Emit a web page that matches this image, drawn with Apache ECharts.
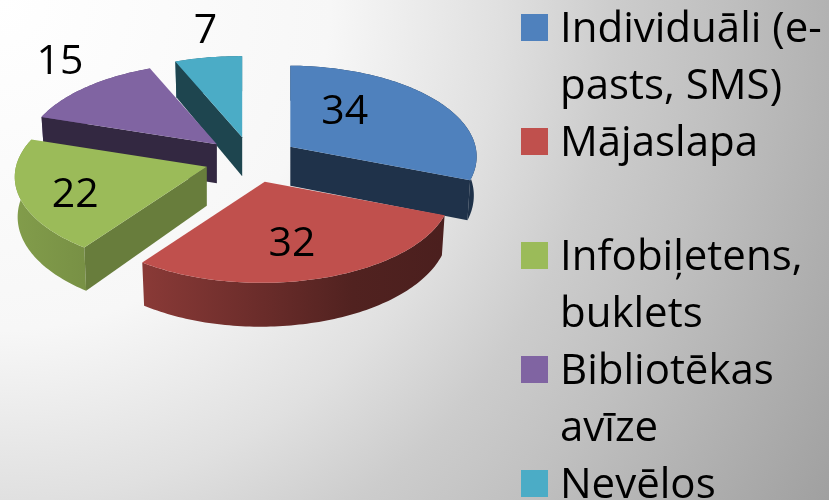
<!DOCTYPE html>
<html>
<head>
<meta charset="utf-8">
<style>
  html, body { margin: 0; padding: 0; }
  #main { width: 829px; height: 500px; }
</style>
<script src="https://cdn.jsdelivr.net/npm/echarts@6/dist/echarts.min.js"></script>
</head>
<body>
<div id="main"></div>
<script>
const categories = ['Individuāli (e-\npasts, SMS)', 'Mājaslapa', 'Infobiļetens,\nbuklets', 'Bibliotēkas\navīze', 'Nevēlos']
const values = [34, 32, 22, 15, 7]
const colors = ['#4F81BD', '#C0504D', '#9BBB59', '#8064A2', '#4BACC6']
// how dark the flat cut face of each slice is
const wallShade = [0.39, 0.4, 0.67, 0.4, 0.4]
// label place relative to the slice tip, in units of the radii
const labelPlace = [[0.29, -0.38], [0.145, 0.7], [-0.70, 0.313], [-0.835, -0.91], [-0.195, -1.18]]

const FONT = '"Open Sans"'
const CX = 251.5
const CY = 159.7
const RX = 188
const RY = 90
const PERSP_Y = 0.11
const PERSP_X = 0.015
const EXPLODE_X = 0.25
const EXPLODE_Y = 0.255
const DEPTH = 39
// the underside sits further away, so it reads slightly narrower
const LOWER_X = 0.985

const total = values.reduce((a, b) => a + b, 0)
const shade = (c, t) => echarts.color.lerp(t, ['#000000', c])

const sliceAngles = (i) => {
  let start = 0
  for (let k = 0; k < i; k++) start += values[k]
  return [start / total * Math.PI * 2, (start + values[i]) / total * Math.PI * 2]
}

const renderSlice = (params, api) => {
  const i = params.dataIndex
  const [a0, a1] = sliceAngles(i)
  const mid = (a0 + a1) / 2
  const color = colors[i]
  const tipX = CX + EXPLODE_X * RX * Math.sin(mid)
  const tipY = CY - EXPLODE_Y * RY * Math.cos(mid)
  const z = Math.round(-Math.cos(mid) * 100)

  const rim = (a) => {
    const X = Math.sin(a)
    const Y = -Math.cos(a)
    const f = 1 / (1 - PERSP_Y * Y + PERSP_X * X)
    return [tipX + RX * X * f, tipY + RY * Y * f, DEPTH * f]
  }
  const under = (p) => [tipX + (p[0] - tipX) * LOWER_X, p[1] + p[2]]

  const steps = Math.ceil((a1 - a0) / 0.02)
  const arc = []
  for (let s = 0; s <= steps; s++) arc.push(rim(a0 + (a1 - a0) * s / steps))

  const top = [[tipX, tipY]].concat(arc.map(p => [p[0], p[1]]))
  const outer = arc.map(p => [p[0], p[1]]).concat(arc.map(under).reverse())
  const wall = (p) => [[tipX, tipY], [p[0], p[1]], under(p), [tipX, tipY + DEPTH]]

  const wallFill = shade(color, wallShade[i])
  const outerFill = new echarts.graphic.LinearGradient(0, 0, 470, 0, [
    { offset: 0, color: shade(color, 0.85) },
    { offset: 0.3, color: shade(color, 0.72) },
    { offset: 0.56, color: shade(color, 0.55) },
    { offset: 0.75, color: shade(color, 0.42) },
    { offset: 1, color: shade(color, 0.38) }
  ], true)

  const poly = (points, fill, extra) => ({
    type: 'polygon',
    z2: z + extra,
    shape: { points },
    style: { fill }
  })

  const children = [poly(outer, outerFill, 0)]
  // a cut face only shows when it turns towards the viewer
  if (Math.sin(a0) <= 0) children.push(poly(wall(arc[0]), wallFill, 1))
  if (Math.sin(a1) > 1e-6) children.push(poly(wall(arc[arc.length - 1]), wallFill, 1))
  children.push(poly(top, color, 2))
  children.push({
    type: 'text',
    z2: 500,
    style: {
      text: String(api.value(0)),
      x: tipX + labelPlace[i][0] * RX,
      y: tipY + labelPlace[i][1] * RY,
      align: 'center',
      verticalAlign: 'middle',
      font: '41px ' + FONT,
      fill: '#000'
    }
  })
  return { type: 'group', children }
}

// legend is drawn by hand: the square sits on the first line of a wrapped name
const legendItems = []
categories.forEach((name, i) => {
  const top = 14 + i * 114
  legendItems.push({
    type: 'rect',
    shape: { x: 521, y: top, width: 27, height: 27 },
    style: { fill: colors[i] }
  })
  legendItems.push({
    type: 'text',
    style: {
      text: name,
      x: 560,
      y: top + 16 - 28.5,
      font: '42px ' + FONT,
      lineHeight: 57,
      fill: '#000',
      verticalAlign: 'top'
    }
  })
})

const chart = echarts.init(document.getElementById('main'))
chart.setOption({
  animation: false,
  backgroundColor: new echarts.graphic.RadialGradient(0, 0, 1.936, [
    { offset: 0, color: '#ffffff' },
    { offset: 0.341, color: '#f7f7f7' },
    { offset: 0.517, color: '#e0e0e0' },
    { offset: 0.636, color: '#cccccc' },
    { offset: 0.745, color: '#c0c0c0' },
    { offset: 0.856, color: '#b2b2b2' },
    { offset: 1, color: '#a0a0a0' }
  ]),
  graphic: legendItems,
  series: [
    {
      type: 'custom',
      coordinateSystem: 'none',
      renderItem: renderSlice,
      data: values.map((v, i) => ({ name: categories[i], value: [v] }))
    }
  ]
})
</script>
</body>
</html>
